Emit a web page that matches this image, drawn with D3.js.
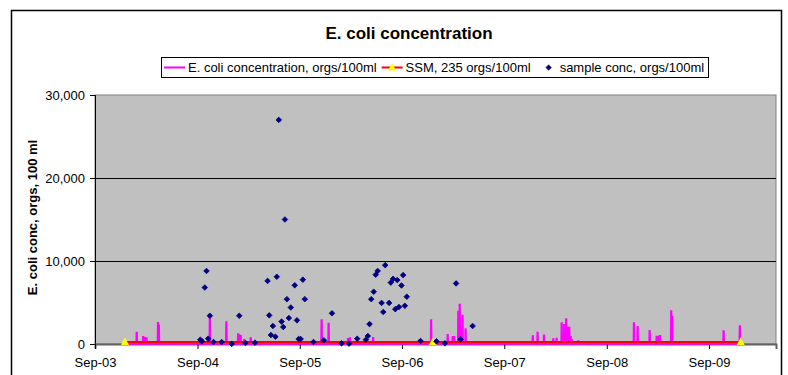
<!DOCTYPE html>
<html>
<head>
<meta charset="utf-8">
<script src="https://cdn.jsdelivr.net/npm/d3@7"></script>
<style>
  html, body { margin: 0; padding: 0; background: #fff; }
  svg { display: block; font-family: "Liberation Sans", Arial, sans-serif; }
</style>
</head>
<body>
<svg id="chart" width="788" height="375"></svg>
<script>
// ---- data ----
const titleText = "E. coli concentration";
const yAxisTitle = "E. coli conc, orgs, 100 ml";
const seriesNames = ["E. coli concentration, orgs/100ml", "SSM, 235 orgs/100ml", "sample conc, orgs/100ml"];

const yTicks = [0, 10000, 20000, 30000];
const xTickDates = ["2003-09-01", "2004-09-01", "2005-09-01", "2006-09-01", "2007-09-01", "2008-09-01", "2009-09-01"];
const xDomain = ["2003-09-01", "2010-04-28"];

// daily modelled concentration (baseline readings around each event)
const concReadings = [
  ["2003-12-18", 30],
  ["2004-01-27", 30], ["2004-01-28", 1480], ["2004-01-29", 30],
  ["2004-02-19", 30], ["2004-02-20", 960], ["2004-02-21", 30],
  ["2004-02-25", 30], ["2004-02-26", 840], ["2004-02-27", 30],
  ["2004-03-02", 30], ["2004-03-03", 800], ["2004-03-04", 30],
  ["2004-04-12", 30], ["2004-04-13", 2650], ["2004-04-14", 30],
  ["2004-04-15", 30], ["2004-04-16", 2350], ["2004-04-17", 30],
  ["2004-10-14", 30], ["2004-10-15", 3400], ["2004-10-16", 30],
  ["2004-12-12", 30], ["2004-12-13", 2730], ["2004-12-14", 30],
  ["2005-01-23", 30], ["2005-01-24", 1300], ["2005-01-25", 30],
  ["2005-01-27", 30], ["2005-01-28", 1150], ["2005-01-29", 30],
  ["2005-02-01", 30], ["2005-02-02", 1080], ["2005-02-03", 30],
  ["2005-02-14", 30], ["2005-02-15", 600], ["2005-02-16", 30],
  ["2005-03-09", 30], ["2005-03-10", 800], ["2005-03-11", 30],
  ["2005-11-17", 30], ["2005-11-18", 2970], ["2005-11-19", 30],
  ["2005-12-12", 30], ["2005-12-13", 2570], ["2005-12-14", 30],
  ["2006-02-19", 30], ["2006-02-20", 720], ["2006-02-21", 30],
  ["2006-02-26", 30], ["2006-02-27", 800], ["2006-02-28", 30],
  ["2006-05-20", 30], ["2006-05-21", 840], ["2006-05-22", 30],
  ["2006-12-13", 30], ["2006-12-14", 2970], ["2006-12-15", 30],
  ["2007-02-10", 30], ["2007-02-11", 1200], ["2007-02-12", 30],
  ["2007-02-28", 30], ["2007-03-01", 960], ["2007-03-02", 30],
  ["2007-03-05", 30], ["2007-03-06", 960], ["2007-03-07", 30],
  ["2007-03-20", 30], ["2007-03-21", 4010], ["2007-03-22", 30],
  ["2007-03-25", 30], ["2007-03-26", 4860], ["2007-03-27", 30],
  ["2007-03-30", 30], ["2007-03-31", 2010], ["2007-04-01", 30],
  ["2007-04-04", 30], ["2007-04-05", 3530], ["2007-04-06", 30],
  ["2007-04-15", 30], ["2007-04-16", 1890], ["2007-04-17", 30],
  ["2007-12-11", 30], ["2007-12-12", 1050], ["2007-12-13", 30],
  ["2007-12-28", 30], ["2007-12-29", 1480], ["2007-12-30", 30],
  ["2008-01-20", 30], ["2008-01-21", 1150], ["2008-01-22", 30],
  ["2008-02-22", 30], ["2008-02-23", 690], ["2008-02-24", 30],
  ["2008-03-05", 30], ["2008-03-06", 760], ["2008-03-07", 30],
  ["2008-03-23", 30], ["2008-03-24", 2610], ["2008-03-25", 30],
  ["2008-04-01", 30], ["2008-04-02", 2410], ["2008-04-03", 30],
  ["2008-04-08", 30], ["2008-04-09", 3090], ["2008-04-10", 30],
  ["2008-04-15", 30], ["2008-04-16", 2090], ["2008-04-17", 30],
  ["2008-04-19", 30], ["2008-04-20", 2090], ["2008-04-21", 30],
  ["2008-04-24", 30], ["2008-04-25", 960], ["2008-04-26", 30],
  ["2008-04-29", 30], ["2008-04-30", 560], ["2008-05-01", 30],
  ["2008-05-21", 30], ["2008-05-22", 440], ["2008-05-23", 30],
  ["2008-05-29", 30], ["2008-05-30", 320], ["2008-05-31", 30],
  ["2008-12-06", 30], ["2008-12-07", 2610], ["2008-12-08", 30],
  ["2008-12-19", 30], ["2008-12-20", 2170], ["2008-12-21", 30],
  ["2009-01-31", 30], ["2009-02-01", 1690], ["2009-02-02", 30],
  ["2009-02-25", 30], ["2009-02-26", 1000], ["2009-02-27", 30],
  ["2009-03-03", 30], ["2009-03-04", 1000], ["2009-03-05", 30],
  ["2009-03-09", 30], ["2009-03-10", 1080], ["2009-03-11", 30],
  ["2009-04-18", 30], ["2009-04-19", 4060], ["2009-04-20", 30],
  ["2009-04-21", 30], ["2009-04-22", 3390], ["2009-04-23", 30],
  ["2009-10-22", 30], ["2009-10-23", 1650], ["2009-10-24", 30],
  ["2009-12-19", 30], ["2009-12-20", 2250], ["2009-12-21", 30],
  ["2009-12-23", 30]
];

// single sample maximum standard
const ssmDates = ["2003-12-17", "2006-12-20", "2009-12-23"];
const ssmValues = [235, 235, 235];

// grab-sample results
const sampleDates = [
  "2004-09-11", "2004-09-17", "2004-09-27", "2004-10-03", "2004-10-09", "2004-10-15",
  "2004-10-28", "2004-11-26", "2005-01-01", "2005-01-28", "2005-02-19", "2005-03-25",
  "2005-05-09", "2005-05-15", "2005-05-21", "2005-05-28", "2005-06-06", "2005-06-11",
  "2005-06-18", "2005-06-28", "2005-07-04", "2005-07-10", "2005-07-17", "2005-07-24",
  "2005-07-31", "2005-08-14", "2005-08-22", "2005-08-28", "2005-09-04", "2005-09-12",
  "2005-09-19", "2005-10-20", "2005-11-26", "2005-12-25", "2006-01-28", "2006-02-24",
  "2006-03-25", "2006-04-25", "2006-05-02", "2006-05-08", "2006-05-14", "2006-05-23",
  "2006-05-30", "2006-06-06", "2006-06-20", "2006-06-26", "2006-07-03", "2006-07-17",
  "2006-07-23", "2006-07-31", "2006-08-08", "2006-08-15", "2006-08-21", "2006-08-30",
  "2006-09-05", "2006-09-11", "2006-09-18", "2006-11-06", "2007-01-02", "2007-02-01",
  "2007-03-13", "2007-03-29", "2007-05-11"
];
const sampleValues = [
  520, 320, 6800, 8800, 640, 3400,
  240, 240, 10, 3400, 120, 160,
  7600, 3450, 1080, 2170, 880, 8100,
  27000, 2700, 2050, 15000, 5400, 3130,
  4400, 7070, 2850, 600, 600, 7750,
  5400, 240, 440, 3700, 80, 40,
  640, 520, 960, 2400, 5400, 6300,
  8350, 8800, 4950, 3850, 9500, 4950,
  7400, 7850, 4200, 7700, 4450, 7050,
  8300, 4600, 5700, 360, 320, 80,
  7300, 560, 2170
];

// ---- layout ----
const colors = { conc: "#FF00FF", ssm: "#FF0000", marker: "#FFFF00", sample: "#000080", plot: "#C0C0C0" };
const plot = { left: 95, right: 776, top: 95, bottom: 344 };

const parse = d3.utcParse("%Y-%m-%d");
const svg = d3.select("#chart");

const x = d3.scaleUtc()
  .domain(xDomain.map(parse))
  .range([plot.left, plot.right]);
const y = d3.scaleLinear()
  .domain([yTicks[0], yTicks[yTicks.length - 1]])
  .range([plot.bottom, plot.top]);

// chart area frame
svg.append("rect")
  .attr("x", 11.5).attr("y", 10.5).attr("width", 770).attr("height", 400)
  .attr("fill", "#fff").attr("stroke", "#000").attr("stroke-width", 1.5);

// title
svg.append("text")
  .attr("x", 409).attr("y", 39)
  .attr("text-anchor", "middle")
  .attr("font-size", 17).attr("font-weight", "bold")
  .text(titleText);

// plot area
svg.append("rect")
  .attr("x", plot.left).attr("y", plot.top)
  .attr("width", plot.right - plot.left).attr("height", plot.bottom - plot.top)
  .attr("fill", colors.plot).attr("stroke", "#808080").attr("stroke-width", 1);

// horizontal gridlines
svg.append("g")
  .selectAll("line")
  .data(yTicks.filter(v => v > 0 && v < yTicks[yTicks.length - 1]))
  .join("line")
  .attr("x1", plot.left).attr("x2", plot.right)
  .attr("y1", d => Math.round(y(d)) + 0.5).attr("y2", d => Math.round(y(d)) + 0.5)
  .attr("stroke", "#000").attr("stroke-width", 1);

// axes
const yAxis = d3.axisLeft(y).tickValues(yTicks).tickFormat(d3.format(",")).tickSize(5).tickPadding(5);
const gy = svg.append("g").attr("transform", `translate(${plot.left},0)`).call(yAxis);
gy.selectAll("text").attr("font-size", 13).attr("fill", "#000").attr("font-family", "Liberation Sans, Arial, sans-serif");
gy.select(".domain").attr("stroke", "#000");

const xAxis = d3.axisBottom(x).tickValues(xTickDates.map(parse)).tickFormat(d3.utcFormat("%b-%y")).tickSize(5).tickPadding(9);
const gx = svg.append("g").attr("transform", `translate(0,${plot.bottom})`).call(xAxis);
gx.selectAll("text").attr("font-size", 13).attr("fill", "#000").attr("font-family", "Liberation Sans, Arial, sans-serif");
gx.select(".domain").attr("stroke", "#606060").attr("stroke-width", 2);

// y-axis title
svg.append("text")
  .attr("transform", `translate(37,${(plot.top + plot.bottom) / 2 - 2}) rotate(-90)`)
  .attr("text-anchor", "middle")
  .attr("font-size", 13).attr("font-weight", "bold")
  .text(yAxisTitle);

// concentration line
const concLine = d3.line()
  .x(d => x(parse(d[0])))
  .y(d => y(d[1]));
svg.append("path")
  .datum(concReadings)
  .attr("d", concLine)
  .attr("fill", "none")
  .attr("stroke", colors.conc)
  .attr("stroke-width", 2.2)
  .attr("stroke-linejoin", "miter");

// SSM line with markers
const ssm = ssmDates.map((d, i) => [parse(d), ssmValues[i]]);
svg.append("path")
  .datum(ssm)
  .attr("d", d3.line().x(d => x(d[0])).y(d => y(d[1])))
  .attr("fill", "none")
  .attr("stroke", colors.ssm)
  .attr("stroke-width", 2);
const triangle = "M0,-4.5L4,3L-4,3Z";
svg.append("g")
  .selectAll("path")
  .data(ssm)
  .join("path")
  .attr("d", triangle)
  .attr("transform", d => `translate(${x(d[0])},${y(d[1])})`)
  .attr("fill", colors.marker);

// sample points
const diamond = "M0,-2.8L2.8,0L0,2.8L-2.8,0Z";
svg.append("g")
  .selectAll("path")
  .data(sampleDates.map((d, i) => [parse(d), sampleValues[i]]))
  .join("path")
  .attr("d", diamond)
  .attr("transform", d => `translate(${x(d[0])},${y(d[1])})`)
  .attr("fill", colors.sample)
  .attr("stroke", colors.sample)
  .attr("stroke-width", 0.8);

// legend
const legend = svg.append("g");
legend.append("rect")
  .attr("x", 161.5).attr("y", 57.5).attr("width", 547).attr("height", 20)
  .attr("fill", "#fff").attr("stroke", "#000").attr("stroke-width", 1);

const ly = 67.5;
let lx = 164;
// entry 1
legend.append("line").attr("x1", lx).attr("x2", lx + 21).attr("y1", ly).attr("y2", ly)
  .attr("stroke", colors.conc).attr("stroke-width", 2);
const t1 = legend.append("text").attr("x", lx + 24).attr("y", 72).attr("font-size", 13).text(seriesNames[0]);
lx = lx + 24 + t1.node().getComputedTextLength() + 5;
// entry 2
legend.append("line").attr("x1", lx).attr("x2", lx + 21).attr("y1", ly).attr("y2", ly)
  .attr("stroke", colors.ssm).attr("stroke-width", 2);
legend.append("path").attr("d", triangle).attr("transform", `translate(${lx + 10.5},${ly})`).attr("fill", colors.marker);
const t2 = legend.append("text").attr("x", lx + 24).attr("y", 72).attr("font-size", 13).text(seriesNames[1]);
lx = lx + 24 + t2.node().getComputedTextLength() + 5;
// entry 3
legend.append("path").attr("d", diamond).attr("transform", `translate(${lx + 13},${ly})`)
  .attr("fill", colors.sample).attr("stroke", colors.sample).attr("stroke-width", 0.5);
legend.append("text").attr("x", lx + 24).attr("y", 72).attr("font-size", 13).text(seriesNames[2]);
</script>
</body>
</html>
